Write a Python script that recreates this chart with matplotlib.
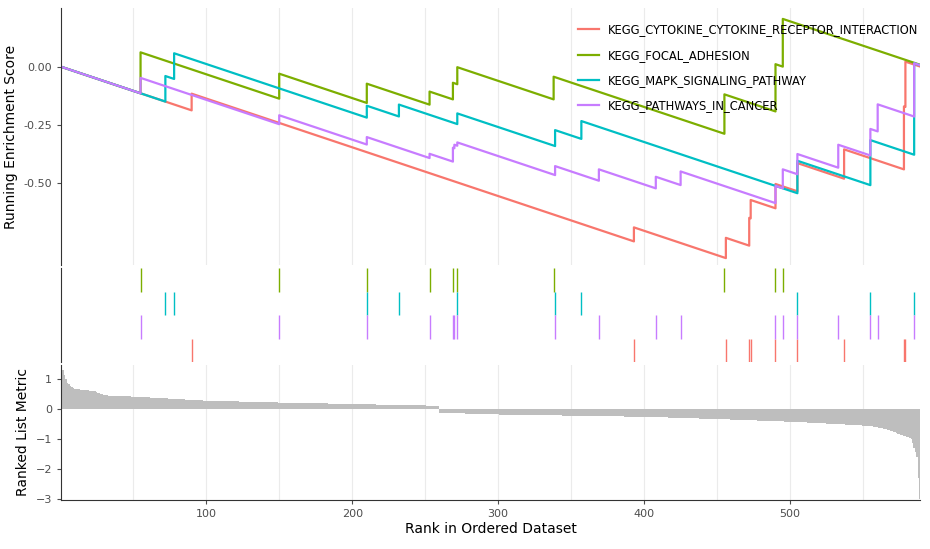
import numpy as np
import matplotlib.pyplot as plt

N = 589
set_names = ["KEGG_CYTOKINE_CYTOKINE_RECEPTOR_INTERACTION", "KEGG_FOCAL_ADHESION",
             "KEGG_MAPK_SIGNALING_PATHWAY", "KEGG_PATHWAYS_IN_CANCER"]
colors = ["#F8766D", "#7CAE00", "#00BFC4", "#C77CFF"]

# hit ranks and running ES value just after each hit
hits_red = [90, 393, 456, 472, 473, 490, 505, 537, 578, 579]
tops_red = [-0.115, -0.691, -0.736, -0.65, -0.573, -0.504, -0.414, -0.355, -0.17, 0.023]
hits_green = [55, 150, 210, 253, 269, 272, 338, 455, 490, 495]
tops_green = [0.063, -0.029, -0.072, -0.106, -0.068, -0.001, -0.042, -0.118, 0.012, 0.207]
hits_cyan = [72, 78, 210, 232, 272, 339, 357, 505, 555, 585]
tops_cyan = [-0.039, 0.059, -0.167, -0.162, -0.2, -0.272, -0.233, -0.404, -0.315, 0.016]
hits_purple = [55, 150, 210, 253, 269, 270, 272, 339, 369, 408, 425, 490, 495, 505, 533, 555, 560, 585]
tops_purple = [-0.047, -0.208, -0.302, -0.374, -0.348, -0.335, -0.325, -0.427, -0.441, -0.473,
               -0.45, -0.512, -0.441, -0.375, -0.335, -0.267, -0.161, 0.016]
miss_step = 0.0021  # ES drop per non-hit rank, read from the slopes

all_hits = [hits_red, hits_green, hits_cyan, hits_purple]
all_tops = [tops_red, tops_green, tops_cyan, tops_purple]

# ranked list metric, read at a few ranks
metric_rank = [1, 2, 5, 10, 24, 28, 33, 49, 100, 150, 200, 251, 259, 260, 280, 301, 404, 455, 505, 555, 566, 583, 587, 589]
metric_val = [1.36, 1.3, 0.86, 0.67, 0.6, 0.5, 0.45, 0.42, 0.28, 0.22, 0.17, 0.12, 0.1, -0.12, -0.15,
              -0.18, -0.26, -0.34, -0.43, -0.56, -0.67, -0.98, -1.59, -3.0]


def running_es(hits, tops):
    xs, ys = [1], [0.0]
    cur, pos = 0.0, 1
    for h, t in zip(hits, tops):
        cur -= miss_step * (h - pos)
        xs += [h, h]
        ys += [cur, t]
        cur, pos = t, h
    xs.append(N)
    ys.append(cur - miss_step * (N - pos))
    return xs, ys


fig = plt.figure(figsize=(9.3, 5.49), dpi=100)
H = 549.0
left, right = 61 / 930, 920 / 930


def mk(top, bottom):
    return fig.add_axes([left, 1 - bottom / H, right - left, (bottom - top) / H])


ax1 = mk(8, 265)
ax2 = mk(268, 362)
ax3 = mk(365, 500)

for ax in (ax1, ax2, ax3):
    ax.set_xlim(0.5, N)
    for s in ("top", "right", "bottom"):
        ax.spines[s].set_visible(False)
    ax.spines["left"].set_color("#333333")
    ax.tick_params(labelsize=8, colors="#4d4d4d", length=3)

ax1.set_xticks([50, 100, 150, 200, 250, 300, 350, 400, 450, 500, 550])
ax1.grid(axis="x", color="#ebebeb", linewidth=0.8)
ax1.set_axisbelow(True)
ax1.set_xticklabels([])
ax1.tick_params(axis="x", length=0)
for name, col, h, t in zip(set_names, colors, all_hits, all_tops):
    xs, ys = running_es(h, t)
    ax1.plot(xs, ys, color=col, linewidth=1.6, label=name)
ax1.set_ylim(-0.853, 0.254)
ax1.set_yticks([0.0, -0.25, -0.5])
ax1.set_yticklabels(["0.00", "-0.25", "-0.50"])
ax1.set_ylabel("Running Enrichment Score", fontsize=10)
ax1.legend(loc="upper right", frameon=False, fontsize=8.3, handlelength=1.8,
           bbox_to_anchor=(1.01, 0.98), labelspacing=1.05)

# hit rows: green, cyan, purple, red from top
row_of = [0, 3, 2, 1]
for col, h, r in zip(colors, all_hits, row_of):
    ax2.vlines(h, r, r + 1, color=col, linewidth=1)
ax2.set_ylim(0, 4)
ax2.set_xticks([])
ax2.set_yticks([])

ranks = np.arange(1, N + 1)
metric = np.interp(ranks, metric_rank, metric_val)
ax3.bar(ranks, metric, width=1.0, color="#bebebe", linewidth=0)
ax3.set_axisbelow(True)
ax3.set_ylim(-3.03, 1.47)
ax3.set_yticks([1, 0, -1, -2, -3])
ax3.spines["bottom"].set_visible(True)
ax3.spines["bottom"].set_color("#333333")
ax3.set_xticks([100, 200, 300, 400, 500])
ax3.set_xticks([50, 150, 250, 350, 450, 550], minor=True)
ax3.grid(axis="x", which="both", color="#ebebeb", linewidth=0.8)
ax3.tick_params(axis="x", which="minor", length=0)
ax3.set_ylabel("Ranked List Metric", fontsize=10)
ax3.set_xlabel("Rank in Ordered Dataset", fontsize=10, labelpad=2)

fig.savefig("out.png", dpi=100)
